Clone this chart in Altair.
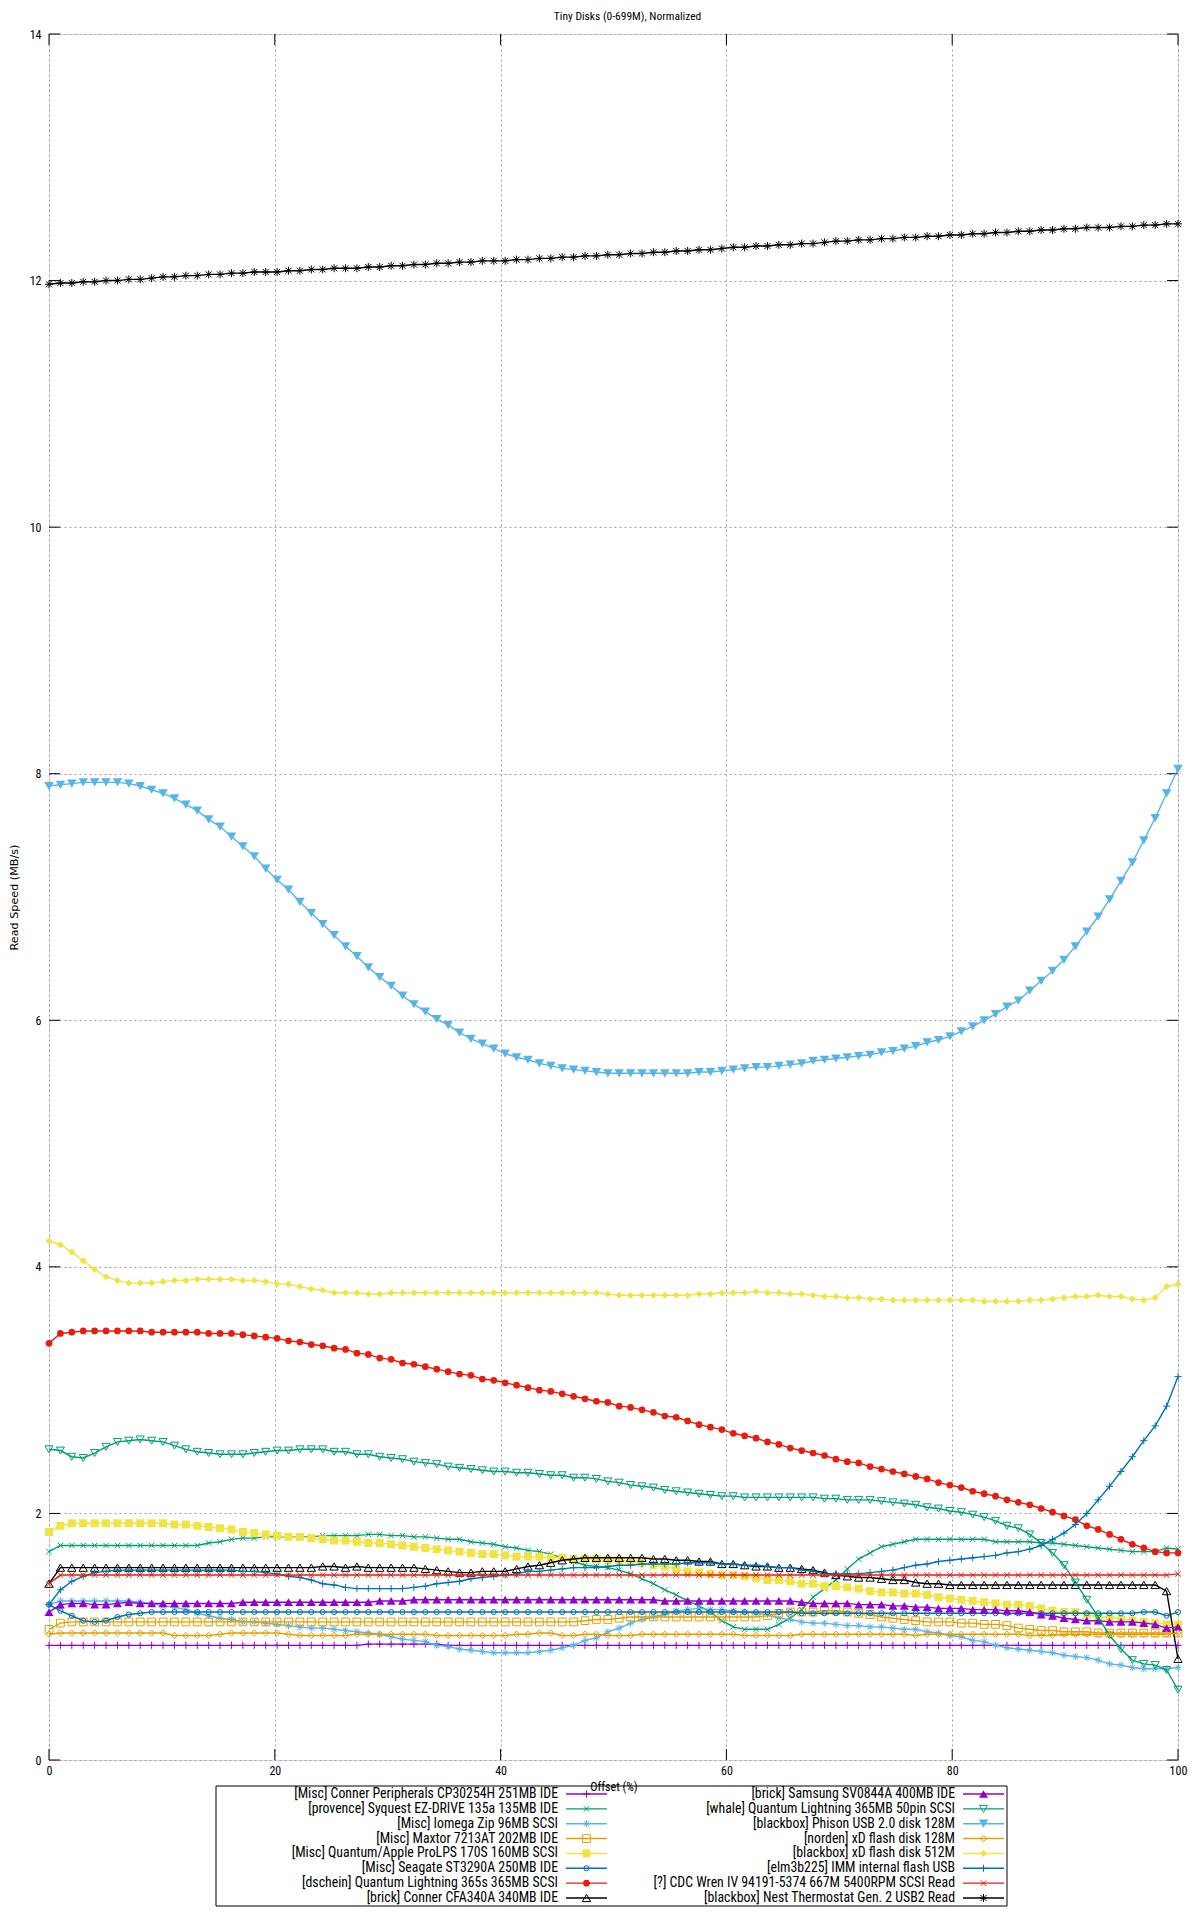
import altair as alt
import numpy as np
import pandas as pd

TITLE = "Tiny Disks (0-699M), Normalized"
X_TITLE = "Offset (%)"
Y_TITLE = "Read Speed (MB/s)"
X_TICKS = [0, 20, 40, 60, 80, 100]
Y_TICKS = [0, 2, 4, 6, 8, 10, 12, 14]

NAMES = [
    "[Misc] Conner Peripherals CP30254H 251MB IDE",
    "[provence] Syquest EZ-DRIVE 135a 135MB IDE",
    "[Misc] Iomega Zip 96MB SCSI",
    "[Misc] Maxtor 7213AT 202MB IDE",
    "[Misc] Quantum/Apple ProLPS 170S 160MB SCSI",
    "[Misc] Seagate ST3290A 250MB IDE",
    "[dschein] Quantum Lightning 365s 365MB SCSI",
    "[brick] Conner CFA340A 340MB IDE",
    "[brick] Samsung SV0844A 400MB IDE",
    "[whale] Quantum Lightning 365MB 50pin SCSI",
    "[blackbox] Phison USB 2.0 disk 128M",
    "[norden] xD flash disk 128M",
    "[blackbox] xD flash disk 512M",
    "[elm3b225] IMM internal flash USB",
    "[?] CDC Wren IV 94191-5374 667M 5400RPM SCSI Read",
    "[blackbox] Nest Thermostat Gen. 2 USB2 Read",
]

S_CONNER_CP = [
    0.93, 0.93, 0.93, 0.93, 0.93, 0.93, 0.93, 0.93, 0.93, 0.93,
    0.93, 0.93, 0.93, 0.93, 0.93, 0.93, 0.93, 0.93, 0.93, 0.93,
    0.93, 0.93, 0.93, 0.93, 0.93, 0.93, 0.93, 0.93, 0.94, 0.94,
    0.94, 0.94, 0.94, 0.94, 0.94, 0.93, 0.93, 0.93, 0.93, 0.93,
    0.93, 0.93, 0.93, 0.93, 0.93, 0.93, 0.93, 0.93, 0.93, 0.93,
    0.93, 0.93, 0.93, 0.93, 0.93, 0.93, 0.93, 0.93, 0.93, 0.93,
    0.93, 0.93, 0.93, 0.93, 0.93, 0.93, 0.93, 0.93, 0.93, 0.93,
    0.93, 0.93, 0.93, 0.93, 0.93, 0.93, 0.93, 0.93, 0.93, 0.93,
    0.93, 0.93, 0.93, 0.93, 0.93, 0.93, 0.93, 0.93, 0.93, 0.93,
    0.93, 0.93, 0.93, 0.93, 0.93, 0.93, 0.93, 0.93, 0.93, 0.93,
]
S_SYQUEST = [
    1.69, 1.74, 1.74, 1.74, 1.74, 1.74, 1.74, 1.74, 1.74, 1.74,
    1.74, 1.74, 1.74, 1.74, 1.76, 1.77, 1.79, 1.80, 1.80, 1.81,
    1.81, 1.81, 1.81, 1.81, 1.82, 1.82, 1.82, 1.82, 1.83, 1.83,
    1.82, 1.82, 1.81, 1.81, 1.80, 1.79, 1.79, 1.77, 1.76, 1.75,
    1.73, 1.72, 1.70, 1.69, 1.67, 1.64, 1.61, 1.58, 1.57, 1.56,
    1.54, 1.51, 1.47, 1.43, 1.38, 1.34, 1.29, 1.25, 1.20, 1.13,
    1.08, 1.06, 1.06, 1.06, 1.10, 1.15, 1.22, 1.32, 1.39, 1.46,
    1.55, 1.63, 1.68, 1.73, 1.75, 1.77, 1.79, 1.79, 1.79, 1.79,
    1.79, 1.79, 1.79, 1.77, 1.77, 1.77, 1.77, 1.76, 1.76, 1.75,
    1.74, 1.73, 1.72, 1.71, 1.70, 1.69, 1.69, 1.69, 1.72, 1.71,
]
S_IOMEGA = [
    1.26, 1.29, 1.29, 1.29, 1.29, 1.29, 1.29, 1.29, 1.28, 1.27,
    1.25, 1.24, 1.22, 1.19, 1.17, 1.15, 1.14, 1.12, 1.12, 1.11,
    1.10, 1.09, 1.08, 1.07, 1.07, 1.06, 1.05, 1.04, 1.03, 1.02,
    1.00, 0.98, 0.97, 0.96, 0.93, 0.92, 0.90, 0.89, 0.88, 0.87,
    0.87, 0.87, 0.87, 0.88, 0.89, 0.91, 0.93, 0.97, 0.99, 1.04,
    1.07, 1.11, 1.14, 1.16, 1.18, 1.21, 1.22, 1.23, 1.22, 1.22,
    1.21, 1.20, 1.19, 1.18, 1.15, 1.14, 1.12, 1.11, 1.11, 1.10,
    1.09, 1.09, 1.08, 1.08, 1.07, 1.06, 1.06, 1.04, 1.03, 1.01,
    1.00, 0.97, 0.96, 0.93, 0.91, 0.90, 0.89, 0.88, 0.87, 0.85,
    0.84, 0.83, 0.81, 0.78, 0.77, 0.75, 0.74, 0.74, 0.74, 0.75,
]
S_MAXTOR = [
    1.06, 1.11, 1.12, 1.12, 1.12, 1.12, 1.12, 1.12, 1.12, 1.12,
    1.12, 1.12, 1.12, 1.12, 1.12, 1.12, 1.12, 1.12, 1.12, 1.12,
    1.12, 1.12, 1.12, 1.12, 1.12, 1.12, 1.12, 1.12, 1.12, 1.12,
    1.12, 1.12, 1.12, 1.12, 1.12, 1.12, 1.12, 1.12, 1.12, 1.12,
    1.12, 1.12, 1.12, 1.12, 1.12, 1.12, 1.12, 1.13, 1.14, 1.14,
    1.15, 1.16, 1.16, 1.16, 1.16, 1.16, 1.16, 1.16, 1.16, 1.16,
    1.16, 1.16, 1.16, 1.17, 1.19, 1.20, 1.20, 1.20, 1.21, 1.21,
    1.20, 1.19, 1.18, 1.16, 1.15, 1.14, 1.13, 1.12, 1.12, 1.12,
    1.11, 1.11, 1.10, 1.10, 1.09, 1.07, 1.06, 1.05, 1.05, 1.04,
    1.04, 1.04, 1.03, 1.03, 1.03, 1.03, 1.03, 1.03, 1.03, 1.03,
]
S_PROLPS = [
    1.85, 1.90, 1.92, 1.92, 1.92, 1.92, 1.92, 1.92, 1.92, 1.92,
    1.92, 1.91, 1.91, 1.90, 1.89, 1.88, 1.87, 1.85, 1.84, 1.83,
    1.82, 1.81, 1.81, 1.80, 1.79, 1.78, 1.78, 1.77, 1.76, 1.76,
    1.75, 1.74, 1.73, 1.72, 1.71, 1.70, 1.69, 1.68, 1.67, 1.67,
    1.66, 1.65, 1.65, 1.65, 1.64, 1.64, 1.63, 1.63, 1.63, 1.62,
    1.62, 1.61, 1.60, 1.58, 1.57, 1.55, 1.53, 1.52, 1.51, 1.50,
    1.50, 1.49, 1.48, 1.46, 1.46, 1.45, 1.43, 1.43, 1.41, 1.41,
    1.40, 1.39, 1.37, 1.36, 1.36, 1.35, 1.35, 1.34, 1.32, 1.31,
    1.30, 1.29, 1.28, 1.27, 1.26, 1.26, 1.25, 1.23, 1.21, 1.20,
    1.20, 1.18, 1.16, 1.16, 1.14, 1.13, 1.12, 1.11, 1.10, 1.10,
]
S_SEAGATE = [
    1.26, 1.21, 1.17, 1.13, 1.12, 1.13, 1.16, 1.18, 1.19, 1.20,
    1.20, 1.20, 1.20, 1.20, 1.20, 1.20, 1.20, 1.20, 1.20, 1.20,
    1.20, 1.20, 1.20, 1.20, 1.20, 1.20, 1.20, 1.20, 1.20, 1.20,
    1.20, 1.20, 1.20, 1.20, 1.20, 1.20, 1.20, 1.20, 1.20, 1.20,
    1.20, 1.20, 1.20, 1.20, 1.20, 1.20, 1.20, 1.20, 1.20, 1.20,
    1.20, 1.20, 1.20, 1.20, 1.20, 1.20, 1.20, 1.20, 1.20, 1.20,
    1.20, 1.20, 1.20, 1.20, 1.20, 1.20, 1.19, 1.19, 1.19, 1.19,
    1.19, 1.19, 1.19, 1.19, 1.19, 1.19, 1.19, 1.19, 1.19, 1.19,
    1.19, 1.19, 1.19, 1.19, 1.19, 1.19, 1.19, 1.19, 1.19, 1.19,
    1.19, 1.19, 1.19, 1.19, 1.19, 1.19, 1.20, 1.20, 1.17, 1.20,
]
S_QL365S = [
    3.38, 3.46, 3.47, 3.48, 3.48, 3.48, 3.48, 3.48, 3.48, 3.47,
    3.47, 3.47, 3.47, 3.47, 3.46, 3.46, 3.46, 3.45, 3.44, 3.43,
    3.42, 3.40, 3.39, 3.37, 3.36, 3.34, 3.33, 3.30, 3.29, 3.26,
    3.25, 3.22, 3.21, 3.19, 3.17, 3.15, 3.13, 3.12, 3.09, 3.08,
    3.06, 3.04, 3.02, 3.00, 2.99, 2.97, 2.95, 2.93, 2.91, 2.90,
    2.87, 2.86, 2.84, 2.82, 2.79, 2.78, 2.75, 2.72, 2.70, 2.68,
    2.65, 2.63, 2.61, 2.58, 2.56, 2.53, 2.51, 2.49, 2.47, 2.44,
    2.42, 2.41, 2.38, 2.36, 2.34, 2.32, 2.30, 2.28, 2.25, 2.23,
    2.21, 2.18, 2.16, 2.14, 2.11, 2.09, 2.07, 2.04, 2.01, 1.98,
    1.95, 1.90, 1.87, 1.83, 1.79, 1.75, 1.72, 1.69, 1.68, 1.68,
]
S_CONNER_CFA = [
    1.43, 1.56, 1.56, 1.56, 1.56, 1.56, 1.56, 1.56, 1.56, 1.56,
    1.56, 1.56, 1.56, 1.56, 1.56, 1.56, 1.56, 1.56, 1.56, 1.56,
    1.56, 1.56, 1.56, 1.56, 1.57, 1.57, 1.56, 1.57, 1.56, 1.56,
    1.56, 1.56, 1.56, 1.55, 1.54, 1.53, 1.52, 1.52, 1.53, 1.53,
    1.53, 1.55, 1.57, 1.58, 1.60, 1.62, 1.63, 1.64, 1.64, 1.64,
    1.64, 1.64, 1.64, 1.63, 1.63, 1.62, 1.62, 1.61, 1.61, 1.59,
    1.59, 1.58, 1.57, 1.57, 1.56, 1.56, 1.55, 1.54, 1.52, 1.50,
    1.49, 1.48, 1.48, 1.47, 1.46, 1.46, 1.44, 1.43, 1.43, 1.42,
    1.42, 1.42, 1.42, 1.42, 1.42, 1.42, 1.42, 1.42, 1.42, 1.42,
    1.42, 1.42, 1.42, 1.42, 1.42, 1.42, 1.42, 1.42, 1.37, 0.82,
]
S_SAMSUNG = [
    1.20, 1.26, 1.27, 1.27, 1.26, 1.26, 1.27, 1.28, 1.27, 1.27,
    1.27, 1.27, 1.27, 1.27, 1.27, 1.27, 1.27, 1.28, 1.28, 1.28,
    1.28, 1.28, 1.28, 1.28, 1.28, 1.28, 1.28, 1.28, 1.28, 1.29,
    1.29, 1.29, 1.30, 1.30, 1.30, 1.30, 1.30, 1.30, 1.30, 1.30,
    1.30, 1.30, 1.30, 1.30, 1.30, 1.30, 1.30, 1.30, 1.30, 1.30,
    1.30, 1.30, 1.30, 1.30, 1.29, 1.29, 1.29, 1.29, 1.29, 1.29,
    1.29, 1.29, 1.29, 1.29, 1.29, 1.29, 1.28, 1.27, 1.27, 1.27,
    1.27, 1.26, 1.26, 1.26, 1.25, 1.25, 1.24, 1.24, 1.23, 1.23,
    1.23, 1.22, 1.22, 1.22, 1.21, 1.21, 1.20, 1.18, 1.17, 1.15,
    1.14, 1.13, 1.13, 1.12, 1.12, 1.12, 1.11, 1.10, 1.07, 1.08,
]
S_QL50PIN = [
    2.52, 2.51, 2.46, 2.45, 2.49, 2.54, 2.58, 2.59, 2.60, 2.59,
    2.58, 2.55, 2.52, 2.50, 2.49, 2.48, 2.48, 2.48, 2.49, 2.50,
    2.51, 2.51, 2.52, 2.52, 2.52, 2.50, 2.50, 2.48, 2.48, 2.46,
    2.45, 2.44, 2.42, 2.41, 2.40, 2.38, 2.37, 2.36, 2.35, 2.34,
    2.34, 2.33, 2.33, 2.32, 2.31, 2.31, 2.29, 2.29, 2.28, 2.26,
    2.25, 2.23, 2.22, 2.21, 2.19, 2.18, 2.17, 2.16, 2.15, 2.14,
    2.14, 2.13, 2.13, 2.13, 2.13, 2.13, 2.13, 2.13, 2.12, 2.12,
    2.11, 2.11, 2.11, 2.10, 2.09, 2.08, 2.07, 2.05, 2.04, 2.02,
    2.01, 1.99, 1.97, 1.94, 1.90, 1.88, 1.83, 1.76, 1.68, 1.58,
    1.44, 1.30, 1.16, 1.01, 0.90, 0.81, 0.78, 0.77, 0.73, 0.57,
]
S_PHISON = [
    7.90, 7.91, 7.92, 7.93, 7.93, 7.93, 7.93, 7.92, 7.90, 7.87,
    7.84, 7.80, 7.75, 7.70, 7.63, 7.57, 7.49, 7.41, 7.33, 7.23,
    7.14, 7.06, 6.96, 6.87, 6.78, 6.69, 6.60, 6.52, 6.43, 6.35,
    6.28, 6.20, 6.13, 6.07, 6.01, 5.96, 5.90, 5.85, 5.81, 5.77,
    5.73, 5.70, 5.68, 5.65, 5.63, 5.61, 5.60, 5.59, 5.58, 5.57,
    5.57, 5.57, 5.57, 5.57, 5.57, 5.57, 5.57, 5.58, 5.58, 5.59,
    5.60, 5.61, 5.62, 5.62, 5.63, 5.64, 5.65, 5.67, 5.68, 5.69,
    5.70, 5.71, 5.72, 5.74, 5.75, 5.77, 5.79, 5.82, 5.84, 5.87,
    5.91, 5.95, 6.00, 6.05, 6.11, 6.16, 6.24, 6.32, 6.40, 6.49,
    6.60, 6.72, 6.84, 6.98, 7.13, 7.28, 7.46, 7.64, 7.84, 8.04,
]
S_XD128 = [
    1.02, 1.03, 1.03, 1.03, 1.03, 1.03, 1.03, 1.03, 1.03, 1.03,
    1.03, 1.01, 1.01, 1.01, 1.01, 1.02, 1.03, 1.03, 1.03, 1.03,
    1.03, 1.02, 1.01, 1.01, 1.01, 1.01, 1.01, 1.02, 1.02, 1.02,
    1.02, 1.02, 1.02, 1.02, 1.01, 1.01, 1.01, 1.01, 1.01, 1.01,
    1.01, 1.02, 1.02, 1.03, 1.03, 1.01, 1.01, 1.02, 1.02, 1.01,
    1.01, 1.01, 1.02, 1.02, 1.02, 1.02, 1.02, 1.02, 1.02, 1.02,
    1.02, 1.01, 1.01, 1.01, 1.01, 1.01, 1.02, 1.02, 1.02, 1.02,
    1.02, 1.02, 1.02, 1.02, 1.02, 1.02, 1.01, 1.02, 1.02, 1.02,
    1.02, 1.02, 1.02, 1.02, 1.02, 1.02, 1.01, 1.01, 1.01, 1.02,
    1.02, 1.02, 1.02, 1.02, 1.02, 1.02, 1.02, 1.02, 1.02, 1.03,
]
S_XD512 = [
    4.21, 4.18, 4.12, 4.05, 3.98, 3.92, 3.89, 3.87, 3.87, 3.87,
    3.88, 3.89, 3.89, 3.90, 3.90, 3.90, 3.90, 3.89, 3.89, 3.88,
    3.86, 3.86, 3.84, 3.82, 3.81, 3.79, 3.79, 3.79, 3.78, 3.78,
    3.79, 3.79, 3.79, 3.79, 3.79, 3.79, 3.79, 3.79, 3.79, 3.79,
    3.79, 3.79, 3.79, 3.79, 3.79, 3.79, 3.79, 3.79, 3.79, 3.78,
    3.77, 3.77, 3.77, 3.77, 3.77, 3.77, 3.77, 3.78, 3.78, 3.79,
    3.79, 3.79, 3.80, 3.79, 3.79, 3.78, 3.78, 3.77, 3.76, 3.76,
    3.75, 3.75, 3.74, 3.74, 3.73, 3.73, 3.73, 3.73, 3.73, 3.73,
    3.73, 3.73, 3.72, 3.72, 3.72, 3.72, 3.73, 3.73, 3.74, 3.75,
    3.76, 3.76, 3.77, 3.76, 3.76, 3.74, 3.73, 3.75, 3.84, 3.86,
]
S_IMM = [
    1.26, 1.38, 1.45, 1.49, 1.52, 1.53, 1.54, 1.54, 1.54, 1.54,
    1.54, 1.54, 1.54, 1.54, 1.54, 1.54, 1.54, 1.53, 1.53, 1.52,
    1.51, 1.49, 1.48, 1.46, 1.43, 1.42, 1.40, 1.39, 1.39, 1.39,
    1.39, 1.39, 1.40, 1.41, 1.43, 1.44, 1.45, 1.47, 1.48, 1.49,
    1.50, 1.51, 1.53, 1.53, 1.54, 1.55, 1.56, 1.56, 1.56, 1.57,
    1.58, 1.58, 1.59, 1.59, 1.59, 1.59, 1.60, 1.60, 1.60, 1.59,
    1.59, 1.58, 1.58, 1.57, 1.56, 1.56, 1.54, 1.53, 1.51, 1.51,
    1.51, 1.51, 1.52, 1.53, 1.54, 1.56, 1.58, 1.59, 1.61, 1.62,
    1.63, 1.64, 1.65, 1.66, 1.68, 1.69, 1.71, 1.74, 1.79, 1.84,
    1.91, 2.00, 2.11, 2.22, 2.34, 2.46, 2.59, 2.71, 2.87, 3.11,
]
S_CDC = [
    1.43, 1.50, 1.50, 1.50, 1.50, 1.50, 1.50, 1.50, 1.50, 1.50,
    1.50, 1.50, 1.50, 1.50, 1.50, 1.50, 1.50, 1.50, 1.50, 1.50,
    1.50, 1.50, 1.50, 1.50, 1.50, 1.50, 1.50, 1.50, 1.50, 1.50,
    1.50, 1.50, 1.50, 1.50, 1.50, 1.50, 1.50, 1.50, 1.50, 1.50,
    1.50, 1.50, 1.50, 1.50, 1.50, 1.50, 1.50, 1.50, 1.50, 1.50,
    1.50, 1.50, 1.50, 1.50, 1.50, 1.50, 1.50, 1.50, 1.50, 1.50,
    1.50, 1.50, 1.50, 1.50, 1.50, 1.50, 1.50, 1.50, 1.50, 1.50,
    1.50, 1.50, 1.50, 1.50, 1.50, 1.50, 1.50, 1.50, 1.50, 1.50,
    1.50, 1.50, 1.50, 1.50, 1.50, 1.50, 1.50, 1.50, 1.50, 1.50,
    1.50, 1.50, 1.50, 1.50, 1.50, 1.50, 1.50, 1.50, 1.50, 1.51,
]
S_NEST = [
    11.97, 11.98, 11.98, 11.99, 11.99, 12.00, 12.00, 12.01, 12.01, 12.02,
    12.03, 12.03, 12.04, 12.04, 12.05, 12.05, 12.06, 12.06, 12.07, 12.07,
    12.07, 12.08, 12.08, 12.09, 12.09, 12.10, 12.10, 12.10, 12.11, 12.11,
    12.12, 12.12, 12.13, 12.13, 12.14, 12.14, 12.15, 12.15, 12.16, 12.16,
    12.16, 12.17, 12.17, 12.18, 12.18, 12.19, 12.19, 12.20, 12.20, 12.21,
    12.21, 12.22, 12.22, 12.23, 12.23, 12.24, 12.24, 12.25, 12.25, 12.26,
    12.27, 12.27, 12.28, 12.28, 12.29, 12.29, 12.30, 12.30, 12.31, 12.32,
    12.32, 12.33, 12.33, 12.34, 12.34, 12.35, 12.35, 12.36, 12.36, 12.37,
    12.37, 12.38, 12.38, 12.39, 12.39, 12.40, 12.40, 12.41, 12.41, 12.42,
    12.42, 12.43, 12.43, 12.43, 12.44, 12.44, 12.45, 12.45, 12.46, 12.46,
]

SERIES = [S_CONNER_CP, S_SYQUEST, S_IOMEGA, S_MAXTOR, S_PROLPS, S_SEAGATE,
          S_QL365S, S_CONNER_CFA, S_SAMSUNG, S_QL50PIN, S_PHISON, S_XD128,
          S_XD512, S_IMM, S_CDC, S_NEST]

# gnuplot default line colours and point types
COLORS = ["#9400d3", "#009e73", "#56b4e9", "#e69f00", "#f0e442", "#0072b2", "#e51e10", "#000000"] * 2
PLUS = "M-1,0L1,0M0,-1L0,1"
CROSS = "M-0.85,-0.85L0.85,0.85M-0.85,0.85L0.85,-0.85"
STAR = "M-1,0L1,0M0,-1L0,1M-0.75,-0.75L0.75,0.75M-0.75,0.75L0.75,-0.75"
SHAPES = [PLUS, CROSS, STAR, "square", "square", "circle", "circle",
          "triangle-up", "triangle-up", "triangle-down", "triangle-down",
          "diamond", "diamond", PLUS, CROSS, STAR]
FILLED = [False, False, False, False, True, False, True, False, True,
          False, True, False, True, False, False, False]
SIZES = [50, 42, 50, 60, 64, 26, 45, 70, 80, 64, 90, 40, 50, 50, 42, 64]

N = len(S_NEST)
offsets = np.linspace(0, 100, N)
recs = []
for name, vals in zip(NAMES, SERIES):
    for xv, v in zip(offsets, vals):
        recs.append({"series": name, "x": float(xv), "v": v})
df = pd.DataFrame(recs)

W, H = 1129, 1726
NARROW = "Liberation Sans Narrow, Roboto Condensed, Liberation Sans, sans-serif"

xscale = alt.Scale(domain=[0, 100], nice=False, zero=False)
yscale = alt.Scale(domain=[0, 14], nice=False)
xaxis = alt.Axis(values=X_TICKS, grid=True, gridColor="#a0a0a0", gridDash=[2, 3],
                 gridWidth=1, tickSize=0, domain=False, labelPadding=5,
                 labelFont=NARROW, labelFontSize=12, labelColor="black",
                 labelFlush=False, labelOverlap=False,
                 titleFont=NARROW, titleFontSize=12, titleFontWeight="normal",
                 titleColor="black", titlePadding=5)
yaxis = alt.Axis(values=Y_TICKS, grid=True, gridColor="#a0a0a0", gridDash=[2, 3],
                 gridWidth=1, tickSize=0, domain=False, labelPadding=8,
                 labelFont=NARROW, labelFontSize=12, labelColor="black",
                 labelFlush=False, labelOverlap=False,
                 titleFont="DejaVu Sans", titleFontSize=11.2, titleFontWeight="normal",
                 titleColor="black", titlePadding=10)
X = alt.X("x:Q", scale=xscale, axis=xaxis, title=X_TITLE)
Y = alt.Y("v:Q", scale=yscale, axis=yaxis, title=Y_TITLE)

xt = pd.DataFrame({"x": X_TICKS})
yt = pd.DataFrame({"v": Y_TICKS})
TL = 11
tick_layers = [
    alt.Chart(xt).mark_rule(color="black").encode(x=X, y=alt.value(H), y2=alt.value(H - TL)),
    alt.Chart(xt).mark_rule(color="black").encode(x=X, y=alt.value(0), y2=alt.value(TL)),
    alt.Chart(yt).mark_rule(color="black").encode(y=Y, x=alt.value(0), x2=alt.value(TL)),
    alt.Chart(yt).mark_rule(color="black").encode(y=Y, x=alt.value(W - TL), x2=alt.value(W)),
]

base = alt.Chart(df)
series_layers = []
for i, name in enumerate(NAMES):
    sub = base.transform_filter(alt.datum.series == name)
    series_layers.append(
        sub.mark_line(color=COLORS[i], strokeWidth=1.4).encode(x=X, y=Y)
    )
    series_layers.append(
        sub.mark_point(shape=SHAPES[i], filled=FILLED[i], color=COLORS[i],
                       size=SIZES[i], opacity=1, strokeWidth=1).encode(x=X, y=Y)
    )

main = alt.layer(*tick_layers, *series_layers)

# ---- gnuplot-style key below the plot ----
leg = pd.DataFrame({
    "series": NAMES,
    "col": [0] * 8 + [1] * 8,
    "row": list(range(8)) * 2,
})
LX = alt.X("col:Q", scale=alt.Scale(domain=[0, 1], range=[509, 906]), axis=None)
LY = alt.Y("row:Q", scale=alt.Scale(domain=[0, 7], range=[1760, 1864]), axis=None)
lcolor = alt.Color("series:N", scale=alt.Scale(domain=NAMES, range=COLORS), legend=None)

box = alt.Chart(pd.DataFrame({"k": [0]})).mark_rect(
    fillOpacity=0, stroke="black", strokeWidth=1
).encode(x=alt.value(167), x2=alt.value(958), y=alt.value(1752), y2=alt.value(1872))

ltext = alt.Chart(leg).mark_text(
    align="right", baseline="middle", font=NARROW, fontSize=13.8, color="black"
).encode(x=LX, y=LY, text="series:N")

lrule = alt.Chart(leg).mark_rule(strokeWidth=1.4, xOffset=8, x2Offset=49).encode(
    x=LX, x2=alt.X2("col:Q"), y=LY, color=lcolor
)

lpts = []
lbase = alt.Chart(leg)
for i, name in enumerate(NAMES):
    lpts.append(
        lbase.transform_filter(alt.datum.series == name).mark_point(
            shape=SHAPES[i], filled=FILLED[i], color=COLORS[i], size=SIZES[i],
            opacity=1, strokeWidth=1, xOffset=28.5
        ).encode(x=LX, y=LY)
    )

legend = alt.layer(box, ltext, lrule, *lpts)

chart = (
    alt.layer(main, legend)
    .resolve_scale(x="independent", y="independent", color="independent")
    .properties(
        width=W,
        height=H,
        padding={"left": 0, "top": 2, "right": 5, "bottom": 0},
        title=alt.Title(TITLE, font=NARROW, fontSize=11.5, fontWeight="normal",
                        anchor="middle", frame="group", offset=6, dx=14,
                        color="black"),
    )
    .configure_view(stroke="black", strokeWidth=1)
    .configure(background="white")
)

chart.save("out.html", embed_options={"renderer": "svg", "actions": False})
